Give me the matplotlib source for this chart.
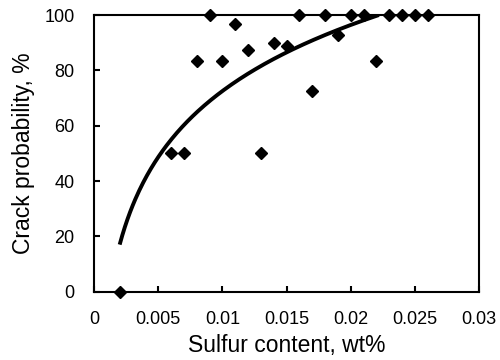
import numpy as np
import matplotlib
matplotlib.use("Agg")
import matplotlib.pyplot as plt

plt.rcParams['font.family'] = ['Liberation Sans', 'DejaVu Sans']

# measured points
sulfur = [0.002, 0.006, 0.007, 0.013, 0.008, 0.010, 0.009, 0.011, 0.012, 0.014,
          0.015, 0.016, 0.017, 0.018, 0.019, 0.020, 0.021, 0.022, 0.023, 0.024,
          0.025, 0.026]
crack_prob = [0, 50, 50, 50, 83.3, 83.3, 100, 96.7, 87.5, 90,
              88.9, 100, 72.7, 100, 92.9, 100, 100, 83.3, 100, 100,
              100, 100]

# logarithmic trend line y = a*ln(x) + b
fit_a = 34.5
fit_b = 231.4
fit_range = (0.002, 0.0222)

fig = plt.figure(figsize=(5, 3.6), dpi=100)
ax = fig.add_axes([0.188, 0.19, 0.77, 0.768])

xs = np.linspace(fit_range[0], fit_range[1], 200)
ax.plot(xs, fit_a * np.log(xs) + fit_b, color='black', lw=2.8, solid_capstyle='butt')
ax.plot(sulfur, crack_prob, 'D', color='black', ms=6, clip_on=False, zorder=5)

ax.set_xlim(0, 0.03)
ax.set_ylim(0, 100)
ax.set_xticks([0, 0.005, 0.01, 0.015, 0.02, 0.025, 0.03])
ax.set_xticklabels(['0', '0.005', '0.01', '0.015', '0.02', '0.025', '0.03'])
ax.set_yticks([0, 20, 40, 60, 80, 100])
ax.tick_params(direction='in', length=4, width=1.5, labelsize=13)
ax.tick_params(axis='x', pad=14)
ax.tick_params(axis='y', pad=14)
for s in ax.spines.values():
    s.set_linewidth(1.5)

ax.set_xlabel('Sulfur content, wt%', fontsize=16.5, labelpad=4)
ax.set_ylabel('Crack probability, %', fontsize=16.5, labelpad=7)

fig.savefig('out.png', dpi=100)
